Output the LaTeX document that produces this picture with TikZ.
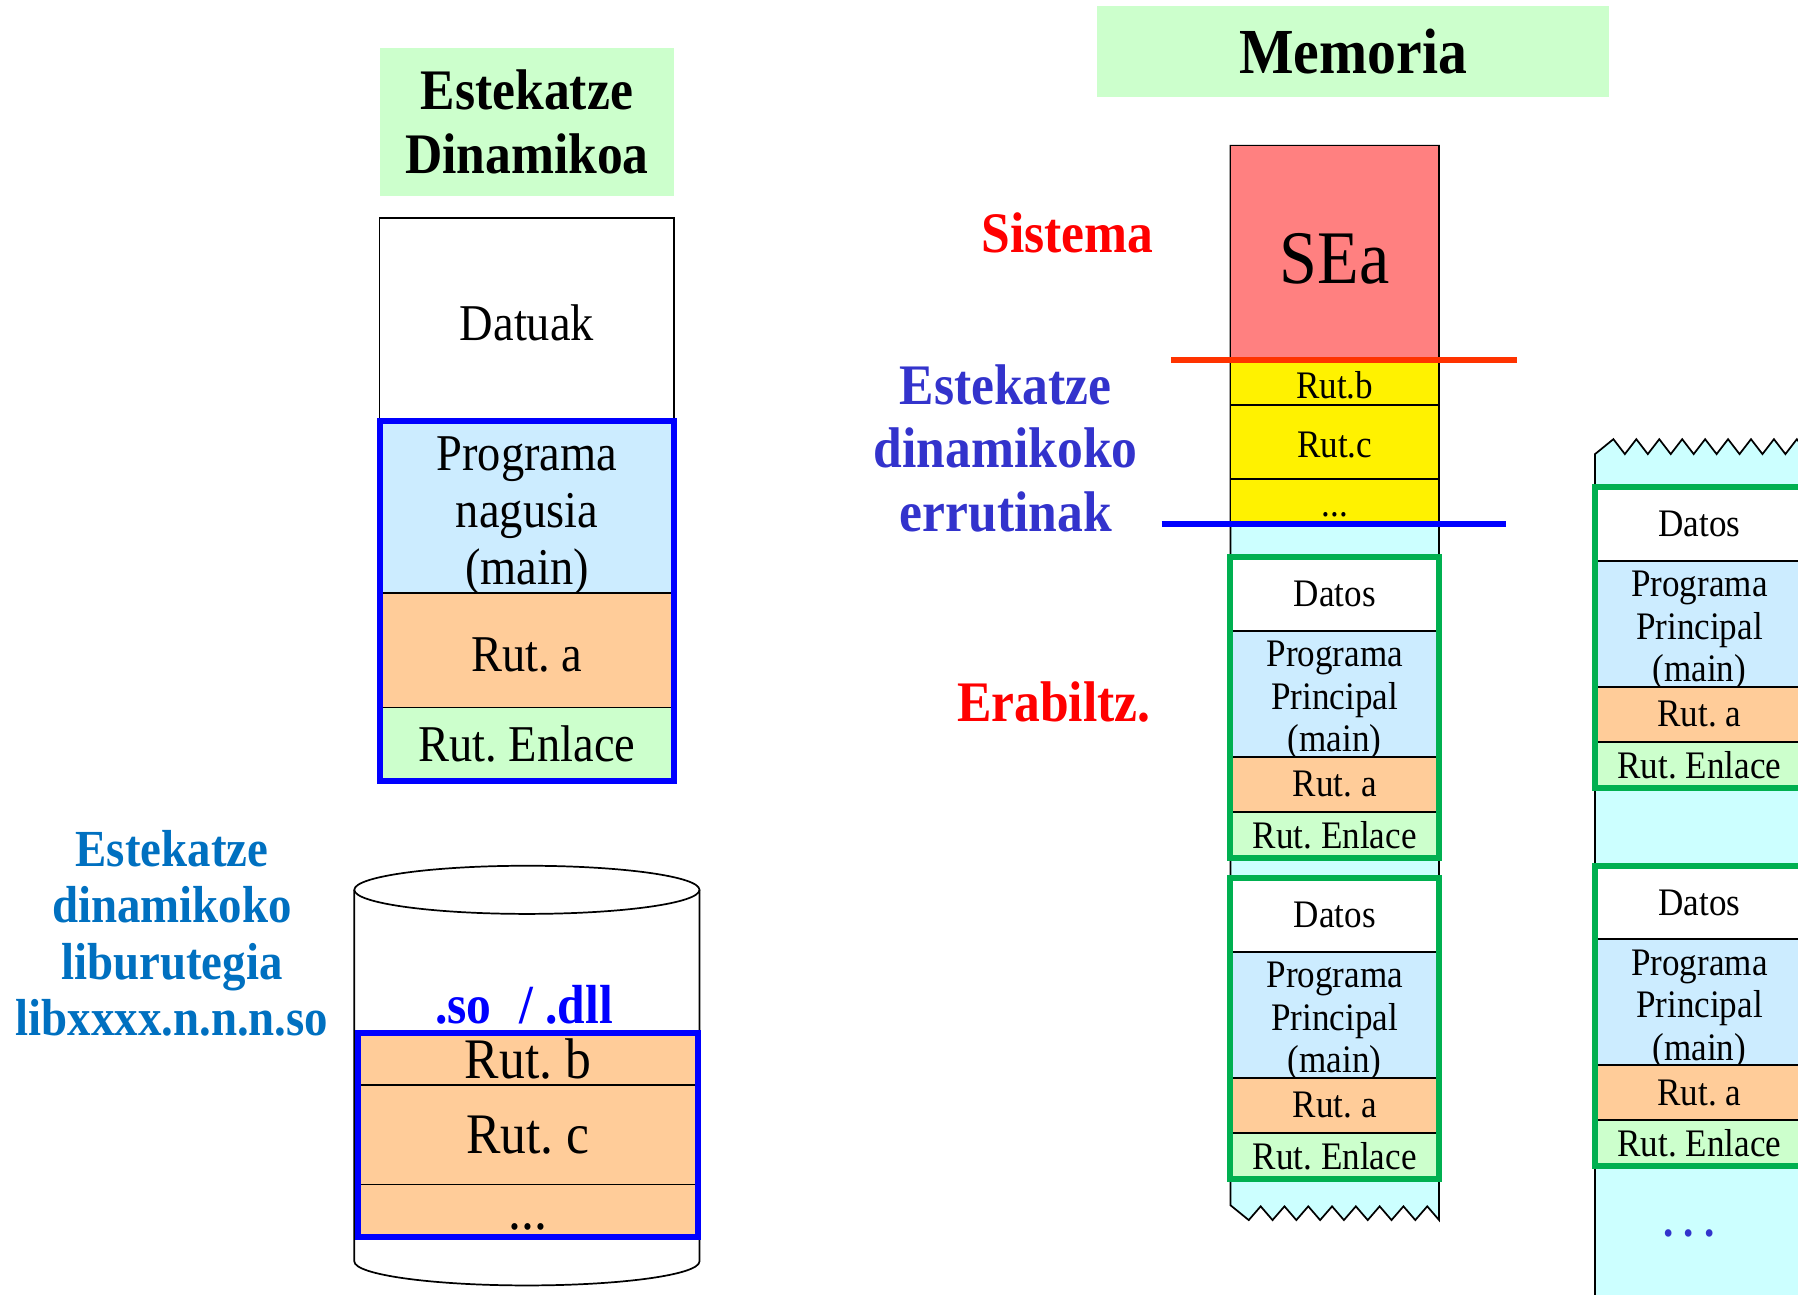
\documentclass[tikz,border=0pt]{standalone}
\usepackage{fontspec}
\setmainfont{Liberation Serif}[FakeStretch=0.9]

\definecolor{verdec}{HTML}{CCFFCC}
\definecolor{azul}{HTML}{CCECFF}
\definecolor{naranja}{HTML}{FFCC99}
\definecolor{cian}{HTML}{CCFFFF}
\definecolor{rojo}{HTML}{FF8080}
\definecolor{verde}{HTML}{00B050}
\definecolor{azullib}{HTML}{0070C0}
\definecolor{azulmed}{HTML}{3333CC}
\definecolor{rojolin}{HTML}{FF3300}

\tikzstyle{seg}=[draw, line width=0.75pt, inner sep=0pt, outer sep=0pt, align=center]
\tikzstyle{bigseg}=[seg, minimum width=128.5pt, font=\fontsize{22.5}{25}\selectfont]
\tikzstyle{libseg}=[seg, minimum width=148.5pt, font=\fontsize{25}{27}\selectfont]
\tikzstyle{memseg}=[seg, minimum width=91pt, font=\fontsize{17}{18.5}\selectfont]
\tikzstyle{bluebox}=[draw=blue, line width=2.6pt]
\tikzstyle{greenbox}=[draw=verde, line width=2.6pt]
\tikzstyle{redtxt}=[text=red, font=\bfseries\fontsize{25}{28}\selectfont]
\tikzstyle{bluetxt}=[align=center, font=\bfseries\fontsize{25}{27.75}\selectfont]
\tikzstyle{sisline}=[draw=rojolin, line width=2.9pt]
\tikzstyle{dinline}=[draw=blue, line width=2.9pt]

\begin{document}
\frenchspacing
\begin{tikzpicture}[x=0.5pt, y=-0.5pt]
  \useasboundingbox (0,0) rectangle (1568,1129);
  \clip (0,0) rectangle (1568,1129);

  % program on disk
  \node[fill=verdec, minimum width=128.5pt, minimum height=64.5pt, align=center, font=\bfseries\fontsize{25}{28}\selectfont] (tit) at (459.5,106.5) {Estekatze\\Dinamikoa};
  \node[bigseg, fill=white, minimum height=88.5pt] (datuak) at (459.5,278.5) {\rule{0pt}{19pt}Datuak};
  \node[bigseg, fill=azul, minimum height=75pt] (prog) at (459.5,442) {\rule{0pt}{18pt}Programa\\nagusia\\\raisebox{0pt}[\height][0pt]{(main)}};
  \node[bigseg, fill=naranja, minimum height=50pt] (ruta) at (459.5,567) {\rule{0pt}{19pt}Rut. a};
  \node[bigseg, fill=verdec, minimum height=32pt] (enl) at (459.5,649) {Rut. Enlace};
  \draw[bluebox] (prog.north west) rectangle (enl.south east);

  % library
  \node[bluetxt, text=azullib, font=\bfseries\fontsize{22.7}{24.6}\selectfont] (lib) at (150,814) {Estekatze\\dinamikoko\\liburutegia\\libxxxx.n.n.n.so};
  \draw[line width=0.75pt, fill=white] (309,776) -- (309,1100) arc[start angle=180, end angle=360, x radius=75.25pt, y radius=10.5pt] -- (610,776);
  \draw[line width=0.75pt, fill=white] (459.5,776) ellipse[x radius=75.25pt, y radius=10.5pt];
  \node[text=blue, font=\bfseries\fontsize{24}{26}\selectfont] (sodll) at (457,876) {.so\hspace{12pt}/ .dll};
  \node[libseg, fill=naranja, minimum height=22.5pt] (rutb) at (460.5,923.5) {Rut. b};
  \node[libseg, fill=naranja, minimum height=43.5pt] (rutc) at (460.5,989.5) {Rut. c};
  \node[libseg, fill=naranja, minimum height=23pt] (rutx) at (460.5,1056) {\vphantom{R}...};
  \draw[bluebox] (rutb.north west) rectangle (rutx.south east);

  % memory
  \node[fill=verdec, minimum width=223pt, minimum height=40pt, font=\bfseries\fontsize{28}{30}\selectfont] (mem) at (1180,45) {Memoria};
  \node[redtxt] (sis) at (931,203) {Sistema};
  \node[bluetxt, text=azulmed] (ruts) at (877,391) {Estekatze\\dinamikoko\\errutinak};
  \node[redtxt] (erab) at (919,612) {Erabiltz.};

  \draw[line width=0.75pt, fill=cian] (1073,127) -- (1073,1051)
    \foreach \i in {0,...,7} { -- (1089+20.75*\i,1064) -- (1099.4+20.75*\i,1052) } -- (1255,1064) -- (1255,127) -- cycle;
  \draw[line width=0.75pt, fill=cian] (1391,1140) -- (1391,396)
    \foreach \i in {0,...,8} { -- (1407+20*\i,383) -- (1417+20*\i,396) } -- (1577,1140) -- cycle;

  \node[memseg, fill=rojo, minimum height=93.5pt, font=\fontsize{33}{35}\selectfont] (sea) at (1164,220.5) {\rule{0pt}{27pt}SEa};
  \node[memseg, fill=yellow, minimum height=19.5pt] (rb) at (1164,333.5) {\rule{0pt}{14pt}Rut.b};
  \node[memseg, fill=yellow, minimum height=32.5pt] (rc) at (1164,385.5) {\rule{0pt}{14pt}Rut.c};
  \node[memseg, fill=yellow, minimum height=19.5pt] (rx) at (1164,437.5) {\rule{0pt}{13.5pt}...};

  \node[memseg, fill=white, minimum height=32pt] (datos1) at (1164,518) {Datos};
  \node[memseg, fill=azul, minimum height=55pt] (prog1) at (1164,605) {\rule{0pt}{13.6pt}Programa\\Principal\\\raisebox{0pt}[\height][0pt]{(main)}};
  \node[memseg, fill=naranja, minimum height=24pt] (ruta1) at (1164,684) {Rut. a};
  \node[memseg, fill=verdec, minimum height=20pt] (enl1) at (1164,728) {Rut. Enlace};
  \draw[greenbox] (datos1.north west) rectangle (enl1.south east);

  \node[memseg, fill=white, minimum height=32pt] (datos2) at (1164,798) {Datos};
  \node[memseg, fill=azul, minimum height=55pt] (prog2) at (1164,885) {\rule{0pt}{13.6pt}Programa\\Principal\\\raisebox{0pt}[\height][0pt]{(main)}};
  \node[memseg, fill=naranja, minimum height=24pt] (ruta2) at (1164,964) {Rut. a};
  \node[memseg, fill=verdec, minimum height=20pt] (enl2) at (1164,1008) {Rut. Enlace};
  \draw[greenbox] (datos2.north west) rectangle (enl2.south east);

  \node[memseg, fill=white, minimum height=32pt] (datos3) at (1482,457) {Datos};
  \node[memseg, fill=azul, minimum height=55pt] (prog3) at (1482,544) {\rule{0pt}{13.6pt}Programa\\Principal\\\raisebox{0pt}[\height][0pt]{(main)}};
  \node[memseg, fill=naranja, minimum height=24pt] (ruta3) at (1482,623) {Rut. a};
  \node[memseg, fill=verdec, minimum height=20pt] (enl3) at (1482,667) {Rut. Enlace};
  \draw[greenbox] (datos3.north west) rectangle (enl3.south east);

  \node[memseg, fill=white, minimum height=32pt] (datos4) at (1482,787) {Datos};
  \node[memseg, fill=azul, minimum height=55pt] (prog4) at (1482,874) {\rule{0pt}{13.6pt}Programa\\Principal\\\raisebox{0pt}[\height][0pt]{(main)}};
  \node[memseg, fill=naranja, minimum height=24pt] (ruta4) at (1482,953) {Rut. a};
  \node[memseg, fill=verdec, minimum height=20pt] (enl4) at (1482,997) {Rut. Enlace};
  \draw[greenbox] (datos4.north west) rectangle (enl4.south east);

  \node[text=azulmed, font=\bfseries\fontsize{20}{22}\selectfont] (etc) at (1473,1076) {. . .};

  % limits
  \coordinate (sisL) at (1021,314);
  \coordinate (sisR) at (1323,314);
  \draw[sisline] (sisL) -- (sisR);
  \coordinate (dinL) at (1013,457);
  \coordinate (dinR) at (1313,457);
  \draw[dinline] (dinL) -- (dinR);
\end{tikzpicture}
\end{document}
